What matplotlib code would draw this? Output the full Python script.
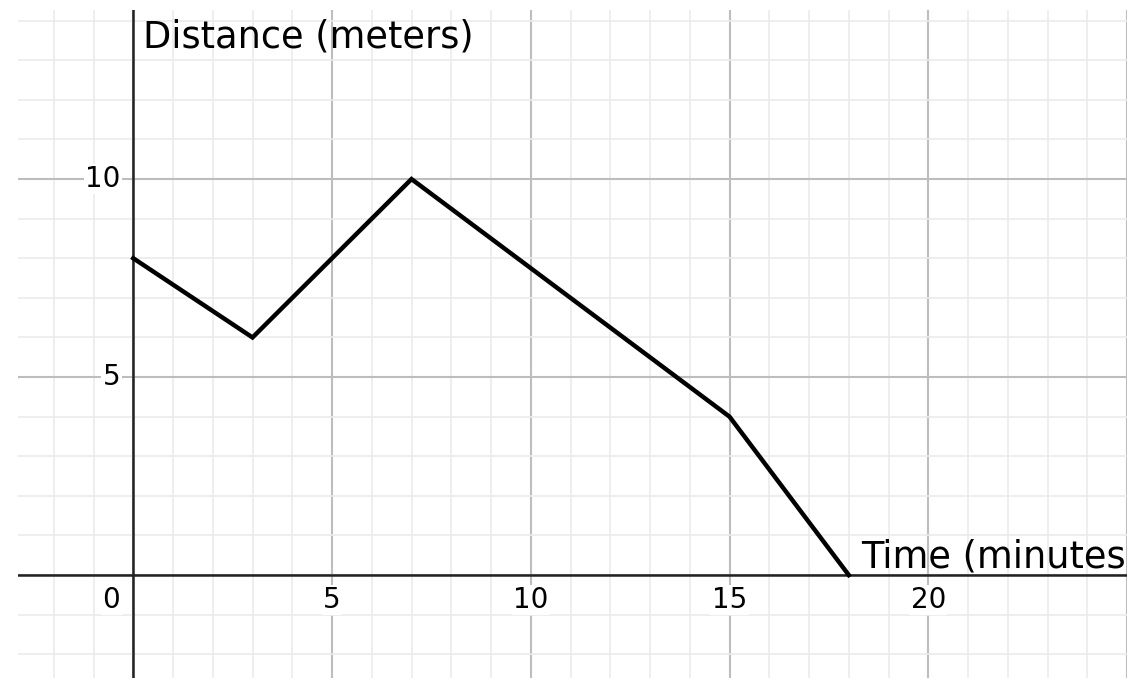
import matplotlib
matplotlib.use("Agg")
import matplotlib.pyplot as plt
from matplotlib.ticker import MultipleLocator
import matplotlib.transforms as mtransforms

# Data
time_min = [0, 3, 7, 15, 18]
distance_m = [8, 6, 10, 4, 0]
x_tick_vals = [5, 10, 15, 20]
y_tick_vals = [5, 10]
x_label = "Time (minutes)"
y_label = "Distance (meters)"

fig = plt.figure(figsize=(11.43, 6.85), dpi=100)
ax = fig.add_axes([18/1143, 7/685, (1127-18)/1143, (678-10)/685])
ax.set_xlim(-2.9, 25.0)
ax.set_ylim(-2.6, 14.27)

for s in ax.spines.values():
    s.set_visible(False)
ax.xaxis.set_major_locator(MultipleLocator(5))
ax.xaxis.set_minor_locator(MultipleLocator(1))
ax.yaxis.set_major_locator(MultipleLocator(5))
ax.yaxis.set_minor_locator(MultipleLocator(1))
ax.tick_params(which="both", length=0, labelbottom=False, labelleft=False)
ax.grid(which="minor", color="#ebebeb", linewidth=1.2)
ax.grid(which="major", color="#bdbdbd", linewidth=1.5)
ax.set_axisbelow(True)

ax.axhline(0, color="#222222", linewidth=1.8, zorder=2)
ax.axvline(0, color="#222222", linewidth=1.8, zorder=2)

ax.plot(time_min, distance_m, color="black", linewidth=3.2, solid_joinstyle="miter", zorder=3)

fs_tick = 20
below = mtransforms.offset_copy(ax.transData, fig=fig, x=0, y=-25, units="dots")
for v in x_tick_vals:
    ax.text(v, 0, str(v), transform=below, ha="center", va="center", fontsize=fs_tick,
            bbox=dict(facecolor="white", edgecolor="none", pad=1), zorder=4)
left = mtransforms.offset_copy(ax.transData, fig=fig, x=-13, y=0, units="dots")
for v in y_tick_vals:
    ax.text(0, v, str(v), transform=left, ha="right", va="center", fontsize=fs_tick,
            bbox=dict(facecolor="white", edgecolor="none", pad=1), zorder=4)
origin = mtransforms.offset_copy(ax.transData, fig=fig, x=-22, y=-25, units="dots")
ax.text(0, 0, "0", transform=origin, ha="center", va="center", fontsize=fs_tick,
        bbox=dict(facecolor="white", edgecolor="none", pad=1), zorder=4)

ax.text(0.25, 13.6, y_label, ha="left", va="center", fontsize=26.5, zorder=4)
ax.text(18.3, 0.2, x_label, ha="left", va="baseline", fontsize=26.5, zorder=4, clip_on=True)

fig.savefig("out.png", dpi=100)
